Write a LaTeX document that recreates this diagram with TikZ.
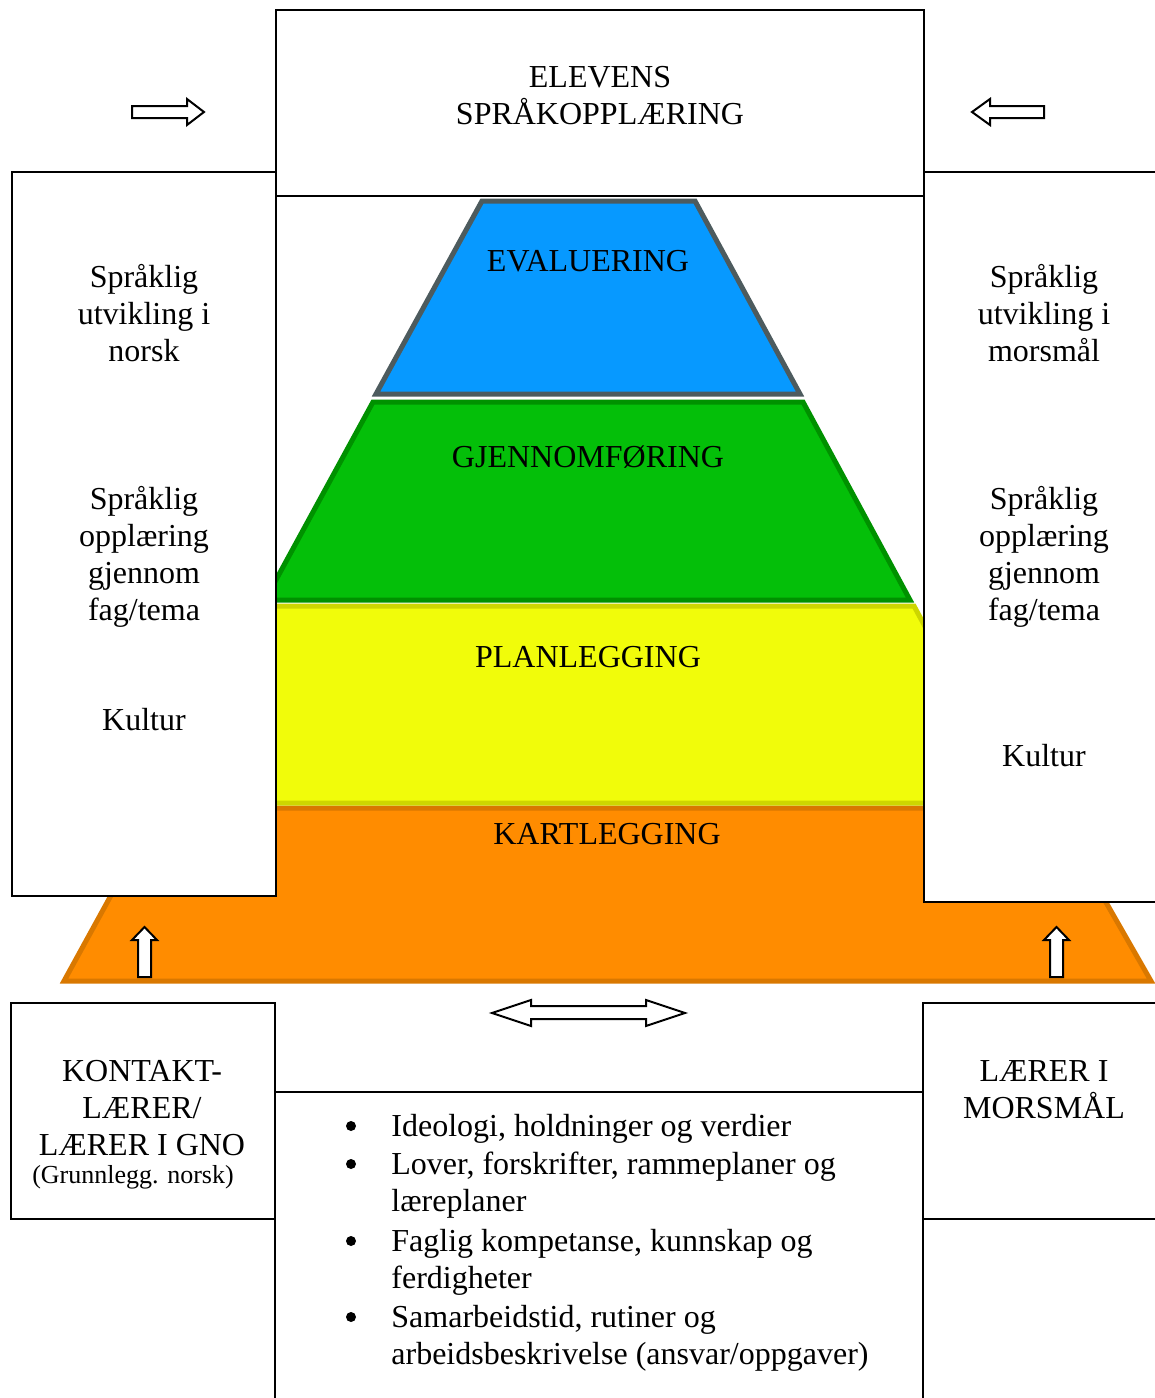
\documentclass[tikz,border=0pt]{standalone}
\usepackage{fontspec}
\setmainfont{Liberation Serif}
\definecolor{evblue}{HTML}{0799FF}
\definecolor{evstroke}{HTML}{4D5B5E}
\definecolor{gjgreen}{HTML}{04BF09}
\definecolor{gjstroke}{HTML}{009100}
\definecolor{plyellow}{HTML}{F1FC0A}
\definecolor{plstroke}{HTML}{CDD600}
\definecolor{kaorange}{HTML}{FF8C00}
\definecolor{kastroke}{HTML}{D97800}
\tikzset{
  frame/.style={draw=black, line width=1pt, fill=white},
  rule/.style={draw=black, line width=1pt},
  blockarrow/.style={draw=black, line width=1pt, fill=white, line join=miter},
  lbl/.style={font=\fontsize{16}{18.5}\selectfont, align=center, inner sep=0pt, anchor=base},
  itemtxt/.style={font=\fontsize{16}{18.5}\selectfont, align=left, inner sep=0pt, anchor=base west},
  bul/.style={circle, fill=black, inner sep=0pt, minimum size=5pt},
  smalltxt/.style={font=\fontsize{13}{15}\selectfont, inner sep=0pt, anchor=base},
  layer/.style={line width=2.5pt, line join=miter},
}
\begin{document}
\begin{tikzpicture}[x=0.5pt,y=-0.5pt]
\useasboundingbox (0,0) rectangle (1155,1398);
\fill[white] (0,0) rectangle (1155,1398);

% pyramid layers
\filldraw[layer, fill=kaorange, draw=kastroke] (159,808) -- (1052,808) -- (1151,981) -- (64,981) -- cycle;
\filldraw[layer, fill=plyellow, draw=plstroke] (261,606) -- (914,606) -- (1020,803) -- (153,803) -- cycle;
\filldraw[layer, fill=gjgreen, draw=gjstroke] (373,402) -- (803,402) -- (910,600) -- (265,600) -- cycle;
\filldraw[layer, fill=evblue, draw=evstroke] (482,201) -- (695,201) -- (800,394) -- (376,394) -- cycle;

% boxes
\draw[frame] (12,172) rectangle (276,896);
\draw[frame] (924,172) rectangle (1165,902);
\draw[frame] (276,10) rectangle (924,196);
\draw[frame] (11,1003) rectangle (275,1219);
\draw[frame] (923,1003) rectangle (1165,1219);
\draw[rule] (275,1219) -- (275,1405);
\draw[rule] (923,1219) -- (923,1405);
\draw[rule] (275,1092) -- (923,1092);

% block arrows
\draw[blockarrow] (132,106) -- (187,106) -- (187,99) -- (204,112) -- (187,125) -- (187,118) -- (132,118) -- cycle;
\draw[blockarrow] (1044,106) -- (990,106) -- (990,99) -- (972,112) -- (990,125) -- (990,118) -- (1044,118) -- cycle;
\draw[blockarrow] (138,977) -- (138,940) -- (132,940) -- (144.5,927) -- (157,940) -- (151,940) -- (151,977) -- cycle;
\draw[blockarrow] (1050,977) -- (1050,940) -- (1044,940) -- (1056.5,927) -- (1069,940) -- (1063,940) -- (1063,977) -- cycle;
\draw[blockarrow] (492,1013) -- (531,1000) -- (531,1006) -- (646,1006) -- (646,1000) -- (685,1013) -- (646,1026) -- (646,1019) -- (531,1019) -- (531,1026) -- cycle;

% texts (multi-line nodes: base = baseline of last line)
\node[lbl] (top) at (600,124) {ELEVENS\\SPRÅKOPPLÆRING};
\node[lbl] (eval) at (588,271) {EVALUERING};
\node[lbl] (gjen) at (588,467) {GJENNOMFØRING};
\node[lbl] (plan) at (588,667) {PLANLEGGING};
\node[lbl] (kart) at (607,844) {KARTLEGGING};

\node[lbl] (lnorsk) at (144,361) {Språklig\\utvikling i\\norsk};
\node[lbl] (lfag) at (144,620) {Språklig\\opplæring\\gjennom\\fag/tema};
\node[lbl] (lkult) at (144,730) {Kultur};

\node[lbl] (rmors) at (1044,361) {Språklig\\utvikling i\\morsmål};
\node[lbl] (rfag) at (1044,620) {Språklig\\opplæring\\gjennom\\fag/tema};
\node[lbl] (rkult) at (1044,766) {Kultur};

\node[lbl] (kontakt) at (142,1155) {KONTAKT-\\LÆRER/\\LÆRER I GNO};
\node[smalltxt] (gno) at (133,1183) {(Grunnlegg. norsk)};
\node[lbl] (morsm) at (1044,1118) {LÆRER I\\MORSMÅL};

\node[bul] (b1) at (351,1126) {};
\node[itemtxt] (i1) at (391,1136) {Ideologi, holdninger og verdier};
\node[bul] (b2) at (351,1164) {};
\node[itemtxt] (i2) at (391,1211) {Lover, forskrifter, rammeplaner og\\læreplaner};
\node[bul] (b3) at (351,1241) {};
\node[itemtxt] (i3) at (391,1288) {Faglig kompetanse, kunnskap og\\ferdigheter};
\node[bul] (b4) at (351,1317) {};
\node[itemtxt] (i4) at (391,1364) {Samarbeidstid, rutiner og\\arbeidsbeskrivelse (ansvar/oppgaver)};
\end{tikzpicture}
\end{document}
